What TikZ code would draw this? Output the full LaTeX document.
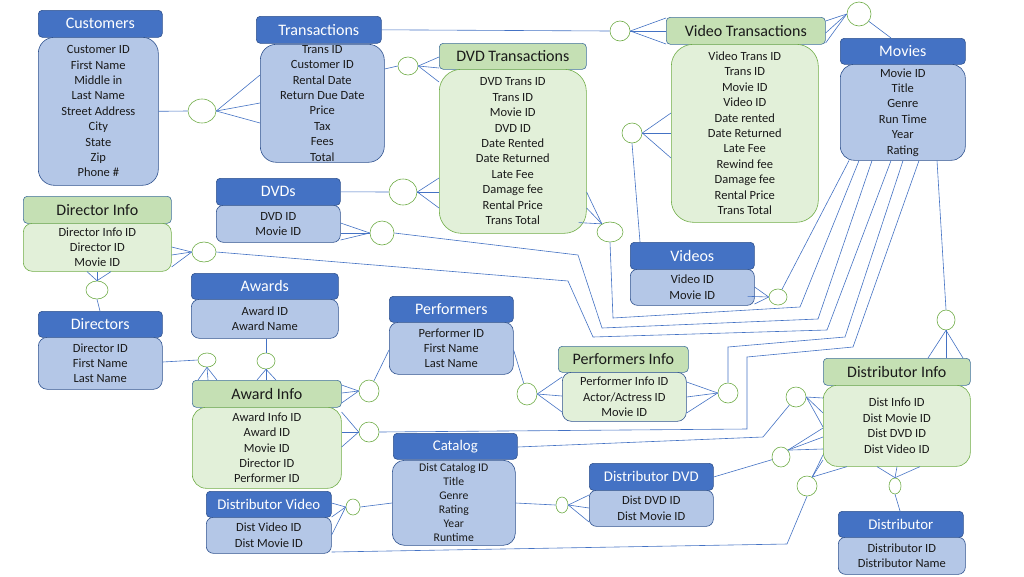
\documentclass[tikz,border=0pt]{standalone}
\usepackage{fontspec}
\setmainfont{Carlito}
\usetikzlibrary{shapes.geometric,calc}
\definecolor{hB}{HTML}{4472C4}
\definecolor{hBd}{HTML}{2F528F}
\definecolor{gHd}{HTML}{41719C}
\definecolor{bB}{HTML}{B4C7E7}
\definecolor{gH}{HTML}{C5E0B4}
\definecolor{gL}{HTML}{E2F0D9}
\definecolor{gB}{HTML}{70AD47}
\definecolor{txt}{HTML}{1A1A1A}
\begin{document}
\begin{tikzpicture}[x=1pt,y=-1pt,
  sz/.style 2 args={minimum width=#1pt, minimum height=#2pt},
  hb/.style={draw=hBd, fill=hB, text=white, rounded corners=4pt, inner sep=0pt, anchor=north west, font=\fontsize{16}{19}\selectfont, line width=0.6pt},
  hg/.style={hb, draw=gHd, fill=gH, text=txt},
  hs/.style={font=\fontsize{14.8}{18}\selectfont},
  bb/.style={draw=hBd, fill=bB, text=txt, rounded corners=12pt, inner sep=0pt, anchor=north west, align=center, font=\fontsize{12.5}{15.4}\selectfont, line width=0.6pt},
  bg/.style={bb, draw=gB, fill=gL},
  cc/.style={ellipse, draw=gB, fill=white, inner sep=0pt, line width=0.6pt},
  ln/.style={draw=hB, line width=0.6pt}]
\useasboundingbox[fill=white] (0,0) rectangle (1024,576);

% ---------- entities ----------
\node[hb, sz={124}{27}] (cusH) at (38,10) {Customers};
\node[bb, sz={120}{148}, rounded corners=16pt] (cusB) at (38,37) {Customer ID\\First Name\\Middle in\\Last Name\\Street Address\\City\\State\\Zip\\Phone \#};

\node[hb, sz={125}{27}] (trH) at (256,16) {Transactions};
\node[bb, sz={124}{118}, rounded corners=16pt] (trB) at (260,44) {Trans ID\\Customer ID\\Rental Date\\Return Due Date\\Price\\Tax\\Fees\\Total};

\node[hg, sz={147}{26}] (dtH) at (439,43) {DVD Transactions};
\node[bg, sz={147}{164}, rounded corners=22pt] (dtB) at (439,69) {DVD Trans ID\\Trans ID\\Movie ID\\DVD ID\\Date Rented\\Date Returned\\Late Fee\\Damage fee\\Rental Price\\Trans Total};

\node[hg, sz={159}{27}] (vtH) at (666,17) {Video Transactions};
\node[bg, sz={147}{178}, rounded corners=22pt] (vtB) at (671,44) {Video Trans ID\\Trans ID\\Movie ID\\Video ID\\Date rented\\Date Returned\\Late Fee\\Rewind fee\\Damage fee\\Rental Price\\Trans Total};

\node[hb, sz={125}{26}] (mvH) at (840,38) {Movies};
\node[bb, sz={125}{96}, rounded corners=14pt] (mvB) at (840,64) {Movie ID\\Title\\Genre\\Run Time\\Year\\Rating};

\node[hb, sz={124}{27}] (dvH) at (216,178) {DVDs};
\node[bb, sz={124}{37}, rounded corners=7pt] (dvB) at (216,205) {DVD ID\\Movie ID};

\node[hg, sz={148}{27}] (dinH) at (23,196) {Director Info};
\node[bg, sz={148}{48}, rounded corners=9pt] (dinB) at (23,223) {Director Info ID\\Director ID\\Movie ID};

\node[hb, sz={124}{27}] (vdH) at (630,242) {Videos};
\node[bb, sz={124}{36}, rounded corners=7pt] (vdB) at (630,269) {Video ID\\Movie ID};

\node[hb, sz={147}{26}] (awH) at (191,273) {Awards};
\node[bb, sz={147}{39}, rounded corners=8pt] (awB) at (191,299) {Award ID\\Award Name};

\node[hb, sz={124}{26}] (drH) at (38,311) {Directors};
\node[bb, sz={124}{52}, rounded corners=9pt] (drB) at (38,337) {Director ID\\First Name\\Last Name};

\node[hb, sz={124}{26}] (pfH) at (389,296) {Performers};
\node[bb, sz={124}{52}, rounded corners=9pt] (pfB) at (389,322) {Performer ID\\First Name\\Last Name};

\node[hg, sz={130}{26}] (piH) at (558,346) {Performers Info};
\node[bg, draw=hBd, sz={124}{49}, rounded corners=9pt] (piB) at (562,372) {Performer Info ID\\Actor/Actress ID\\Movie ID};

\node[hg, sz={147}{27}] (dsiH) at (823,358) {Distributor Info};
\node[bg, sz={147}{81}, rounded corners=14pt] (dsiB) at (823,385) {Dist Info ID\\Dist Movie ID\\Dist DVD ID\\Dist Video ID};

\node[hg, sz={149}{27}] (aiH) at (192,380) {Award Info};
\node[bg, sz={149}{81}, rounded corners=14pt] (aiB) at (192,407) {Award Info ID\\Award ID\\Movie ID\\Director ID\\Performer ID};

\node[hb, hs, sz={124}{26}] (caH) at (393,433) {Catalog};
\node[bb, sz={123}{85}, rounded corners=12pt, font=\fontsize{11.7}{14}\selectfont] (caB) at (392,460) {Dist Catalog ID\\Title\\Genre\\Rating\\Year\\Runtime};

\node[hb, hs, sz={124}{27}] (ddH) at (589,463) {Distributor DVD};
\node[bb, sz={124}{36}, rounded corners=7pt] (ddB) at (589,490) {Dist DVD ID\\Dist Movie ID};

\node[hb, hs, sz={125}{26}] (dvidH) at (206,491) {Distributor Video};
\node[bb, sz={125}{36}, rounded corners=7pt] (dvidB) at (206,517) {Dist Video ID\\Dist Movie ID};

\node[hb, hs, sz={125}{26}] (dsH) at (838,511) {Distributor};
\node[bb, sz={127}{37}, rounded corners=7pt] (dsB) at (838,537) {Distributor ID\\Distributor Name};

% ---------- relationship circles ----------
\node[cc, sz={28}{24}] (c1) at (202,111) {};
\node[cc, sz={20}{18}] (c2) at (408,66) {};
\node[cc, sz={20}{20}] (c3) at (620,31) {};
\node[cc, sz={24}{24}] (c4) at (859,14) {};
\node[cc, sz={20}{20}] (c5) at (632,133) {};
\node[cc, sz={26}{20}] (c6) at (610,232) {};
\node[cc, sz={28}{26}] (c7) at (403,192) {};
\node[cc, sz={24}{24}] (c8) at (382,233) {};
\node[cc, sz={18}{16}] (c9) at (778,297) {};
\node[cc, sz={24}{20}] (c10) at (204,252) {};
\node[cc, sz={22}{18}] (c11) at (97,290) {};
\node[cc, sz={18}{14}] (c12) at (207,360) {};
\node[cc, sz={18}{16}] (c13) at (266,361) {};
\node[cc, sz={20}{22}] (c14) at (369,391) {};
\node[cc, sz={20}{20}] (c15) at (369,432) {};
\node[cc, sz={20}{22}] (c16) at (527,394) {};
\node[cc, sz={20}{20}] (c17) at (728,393) {};
\node[cc, sz={18}{20}] (c18) at (946,320) {};
\node[cc, sz={20}{20}] (c19) at (796,397) {};
\node[cc, sz={18}{20}] (c20) at (781,457) {};
\node[cc, sz={20}{20}] (c21) at (807,486) {};
\node[cc, sz={12}{16}] (c22) at (895,486) {};
\node[cc, sz={14}{16}] (c23) at (353,507) {};
\node[cc, sz={12}{16}] (c24) at (562,505) {};

% ---------- connectors ----------
\draw[ln] (cusB.east) -- (c1.west);
\foreach \y in {75,103,123} \draw[ln] (c1.east) -- (trB.west |- 0,\y);

\draw[ln] (trB.east |- 0,69) -- (c2.west);
\draw[ln] (c2.east) -- (dtH.west |- 0,57);
\draw[ln] (c2.east) -- (dtB.west |- 0,68);
\draw[ln] (c2.east) -- (dtB.west |- 0,82);

\draw[ln] (trH.east) -- (c3.west);
\foreach \y in {18,31,44} \draw[ln] (c3.east) -- (vtH.west |- 0,\y);

\foreach \y in {21,33,43} \draw[ln] (c4.west) -- (vtH.east |- 0,\y);
\draw[ln] (c4) -- (mvH.north -| 891,0);

\foreach \y in {113,133,158} \draw[ln] (c5.east) -- (vtB.west |- 0,\y);
\draw[ln] (c5.south) -- (vdH.north -| 640,0);

\draw[ln] (c6.135) -- (dtB.east |- 0,192);
\draw[ln] (c6.135) -- (dtB.east |- 0,208);
\draw[ln] (c6.135) -- ($(dtB.south east)+(-8,-11)$);
\draw[ln] (c6.south) -- (613,318) -- (800,307) -- (mvB.south -| 859,0);

\draw[ln] (dvH.east) -- (c7.west);
\foreach \y in {178,192,208} \draw[ln] (c7.east) -- (dtB.west |- 0,\y);

\foreach \y in {223,233,240} \draw[ln] (c8.west) -- (dvB.east |- 0,\y);
\draw[ln] (c8.east) -- (578,255) -- (602,328) -- (818,319) -- (mvB.south -| 872,0);

\draw[ln] (c9.west) -- (vdB.east |- 0,287);
\draw[ln] (c9.west) -- ($(vdB.east)+(-7,9)$);
\draw[ln] (c9.west) -- (vdB.east |- 0,304);
\draw[ln] (c9) -- (mvB.south -| 849,0);

\foreach \y in {247,255,267} \draw[ln] (c10.west) -- (dinB.east |- 0,\y);
\draw[ln] (c10.east) -- (568,281) -- (593,337) -- (827,330) -- (mvB.south -| 891,0);

\foreach \x in {87,97,111} \draw[ln] (c11.north) -- (dinB.south -| \x,0);
\draw[ln] (c11.south) -- (drH.north -| 100,0);

\draw[ln] (drB.east |- 0,362) -- (c12.west);
\foreach \x in {198,208,217} \draw[ln] (c12.south) -- (aiH.north -| \x,0);

\draw[ln] (awB.south -| 266,0) -- (c13.north);
\foreach \x in {257,266,276} \draw[ln] (c13.south) -- (aiH.north -| \x,0);

\foreach \y in {385,393,403} \draw[ln] (c14.west) -- (aiH.east |- 0,\y);
\draw[ln] (c14) -- (pfB.west |- 0,350);

\foreach \y in {412,432,447} \draw[ln] (c15.west) -- (aiB.east |- 0,\y);
\draw[ln] (c15.east) -- (747,429) -- (747,357) -- (853,347) -- (mvB.south -| 919,0);

\draw[ln] (pfB.east |- 0,350) -- (c16);
\foreach \y in {377,396,412} \draw[ln] (c16.east) -- (piB.west |- 0,\y);

\foreach \y in {382,397,413} \draw[ln] (c17.west) -- (piB.east |- 0,\y);
\draw[ln] (c17.north) -- (728,347) -- (845,337) -- (mvB.south -| 903,0);

\draw[ln] (mvB.south -| 937,0) -- (c18.north);
\foreach \x in {928,946,963} \draw[ln] (c18.south) -- (dsiH.north -| \x,0);

\draw[ln] (caH.east |- 0,447) -- (763,437) -- (c19);
\foreach \y in {398,413,427} \draw[ln] (c19.east) -- (dsiB.west |- 0,\y);

\draw[ln] (ddH.east |- 0,477) -- (c20);
\foreach \y in {428,437,449} \draw[ln] (c20.45) -- (dsiB.west |- 0,\y);

\draw[ln] (c21.60) -- (dsiB.west |- 0,455);
\draw[ln] (c21.60) -- (dsiB.west |- 0,460);
\draw[ln] (c21.60) -- (dsiB.south -| 847,0);
\draw[ln] (c21.south) -- (787,544) -- (dvidB.east |- 0,552);

\foreach \x in {877,897,920} \draw[ln] (c22.north) -- (dsiB.south -| \x,0);
\draw[ln] (c22.south) -- (dsH.north -| 900,0);

\draw[ln] (c23.west) -- (dvidH.east |- 0,503);
\draw[ln] (c23.west) -- (dvidB.east |- 0,517);
\draw[ln] (c23.west) -- (dvidB.east |- 0,535);
\draw[ln] (c23.east) -- (caB.west |- 0,503);

\draw[ln] (caB.east |- 0,503) -- (c24.west);
\foreach \y in {495,508,522} \draw[ln] (c24.east) -- (ddB.west |- 0,\y);
\end{tikzpicture}
\end{document}
